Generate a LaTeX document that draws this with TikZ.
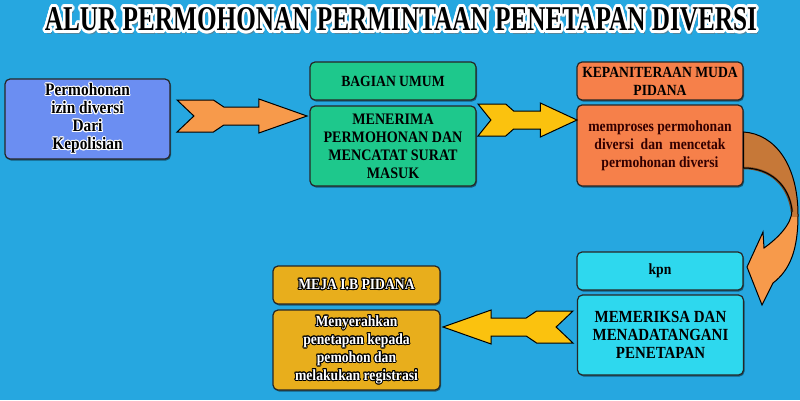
\documentclass[tikz,border=0pt]{standalone}
\usepackage{fontspec}
\newfontfamily\bx[FakeStretch=0.88]{Liberation Serif Bold}
\usepackage[copies]{contour}
\contourlength{0.9pt}
\usetikzlibrary{calc,shadows}
\definecolor{bg}{RGB}{38,167,224}
\definecolor{cblue}{RGB}{107,142,242}
\definecolor{cgreen}{RGB}{30,200,140}
\definecolor{corange}{RGB}{246,128,74}
\definecolor{ccyan}{RGB}{46,216,238}
\definecolor{cgold}{RGB}{232,174,28}
\definecolor{aorange}{RGB}{247,154,75}
\definecolor{ayellow}{RGB}{251,194,14}
\definecolor{abrown}{RGB}{198,120,56}
\newcommand\notcharrow[3]{%
  \draw[#1] ($(#2)+(0,-16)$) -- ($(#2)!0.28!(#3)+(0,-16)$) -- ($(#2)!0.36!(#3)+(0,-9)$)
   -- ($(#2)!0.63!(#3)+(0,-9)$) -- ($(#2)!0.63!(#3)+(0,-17)$) -- (#3)
   -- ($(#2)!0.63!(#3)+(0,17)$) -- ($(#2)!0.63!(#3)+(0,9)$) -- ($(#2)!0.36!(#3)+(0,9)$)
   -- ($(#2)!0.28!(#3)+(0,16)$) -- ($(#2)+(0,16)$) -- ($(#2)!0.13!(#3)$) -- cycle;}
\tikzset{
  box/.style={draw=black!85, line width=1.2pt, rounded corners=5pt, minimum width=166pt,
    minimum height=80pt, inner sep=2pt, align=center,
    drop shadow={shadow xshift=1pt, shadow yshift=-1.5pt, opacity=0.45, fill=black},
    font=\bx\fontsize{15.5}{18}\selectfont},
  headbox/.style={box, minimum height=38pt},
  fatarrow/.style={draw=black, line width=1pt, line join=miter},
}
\begin{document}
\begin{tikzpicture}[x=1pt,y=-1pt]
\path[fill=bg, use as bounding box] (0,0) rectangle (800,400);
% title
\node[text=black!55, opacity=0.6] at (403,23) {\resizebox{712pt}{23pt}{\bx ALUR PERMOHONAN PERMINTAAN PENETAPAN DIVERSI}};
\node (title) at (401,21) {\resizebox{712pt}{23pt}{\contour{white}{\bx ALUR PERMOHONAN PERMINTAAN PENETAPAN DIVERSI}}};
% boxes
\node[box, fill=cblue, minimum width=165pt, font=\bx\fontsize{17.5}{18}\selectfont] (b1) at (87.5,119)
  {\contour{white}{Permohonan}\\\contour{white}{izin diversi}\\\contour{white}{Dari}\\\contour{white}{Kepolisian}};
\node[headbox, fill=cgreen] (b2t) at (393,81) {BAGIAN UMUM};
\node[box, fill=cgreen, font=\bx\fontsize{16}{18}\selectfont] (b2) at (393,146) {MENERIMA\\PERMOHONAN DAN\\MENCATAT SURAT\\MASUK};
\node[headbox, fill=corange] (b3t) at (660,81) {KEPANITERAAN MUDA\\PIDANA};
\node[box, fill=corange, minimum height=81pt, text=black!80!red] (b3) at (660,145.5) {memproses permohonan\\diversi\ \ dan\ \ mencetak\\permohonan diversi};
\node[headbox, fill=ccyan] (b4t) at (660,271) {kpn};
\node[box, fill=ccyan, font=\bx\fontsize{17}{18}\selectfont] (b4) at (660.5,335) {MEMERIKSA DAN\\MENADATANGANI\\PENETAPAN};
\node[headbox, fill=cgold, minimum width=167pt, text=white] (b5t) at (356.5,285) {\contour{black}{MEJA I.B PIDANA}};
\node[box, fill=cgold, minimum width=167pt, text=white] (b5) at (356.5,350)
  {\contour{black}{Menyerahkan}\\\contour{black}{penetapan kepada}\\\contour{black}{pemohon dan}\\\contour{black}{melakukan registrasi}};
% straight arrows
\coordinate (a1s) at (177,116);
\coordinate (a1e) at (307,116);
\coordinate (a2s) at (478,120);
\coordinate (a2e) at (577,120);
\coordinate (a3s) at (573,327);
\coordinate (a3e) at (443,327);
\notcharrow{fatarrow, fill=aorange}{a1s}{a1e}
\notcharrow{fatarrow, fill=ayellow}{a2s}{a2e}
\notcharrow{fatarrow, fill=ayellow}{a3s}{a3e}
% curved arrow from b3 to b4t
\coordinate (c1) at (b3.east |- 0,132);
\coordinate (c2) at (b3.east |- 0,168);
\coordinate (ctip) at (747,267);
\def\curvedpath{(c1) .. controls (775,134) and (798,165) .. (798,215) .. controls (798,250) and (790,270) .. (773,283)
  -- (762,305) -- (ctip) -- (763,232) -- (764,248) .. controls (778,238) and (792,224) .. (792,210)
  .. controls (789,185) and (770,168) .. (c2) -- cycle}
\fill[aorange] \curvedpath;
\begin{scope}
  \clip (700,100) rectangle (800,216);
  \fill[abrown] \curvedpath;
  \draw[abrown!60!black, line width=2.5pt] (792,212) .. controls (789,185) and (770,168) .. (c2);
\end{scope}
\draw[black, line width=1pt, line join=miter] \curvedpath;
\end{tikzpicture}
\end{document}
